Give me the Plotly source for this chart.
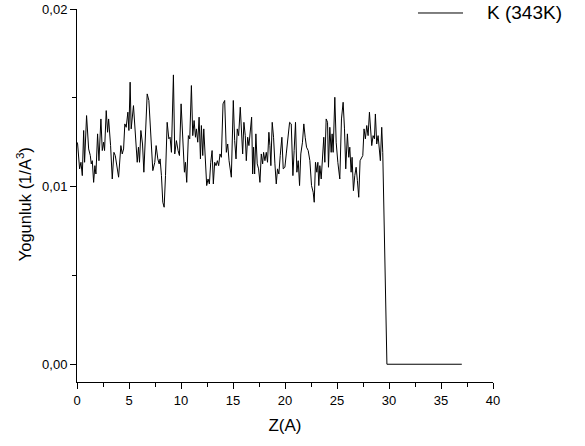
import plotly.graph_objects as go

# Density profile along Z for K at 343 K
z = [0.00, 0.06, 0.25, 0.38, 0.51, 0.64, 0.73, 0.92, 1.12, 1.28, 1.37, 1.47, 1.60, 1.72, 1.82,
     1.98, 2.11, 2.30, 2.43, 2.56, 2.65, 2.81, 2.94, 3.04, 3.23, 3.39, 3.55, 3.68, 4.00, 4.22,
     4.35, 4.48, 4.60, 4.73, 4.89, 4.99, 5.11, 5.21, 5.43, 5.66, 5.79, 5.91, 6.01, 6.14, 6.30,
     6.43, 6.59, 6.75, 6.91, 7.10, 7.29, 7.48, 7.61, 7.77, 7.90, 7.99, 8.12, 8.25, 8.38, 8.51,
     8.67, 8.83, 8.95, 9.08, 9.27, 9.40, 9.56, 9.72, 9.85, 10.01, 10.17, 10.33, 10.43, 10.55,
     10.71, 10.84, 11.00, 11.13, 11.26, 11.39, 11.48, 11.61, 11.74, 11.87, 11.96, 12.09, 12.19,
     12.31, 12.47, 12.60, 12.73, 12.86, 12.99, 13.11, 13.24, 13.37, 13.50, 13.62, 13.75, 13.88,
     14.04, 14.20, 14.36, 14.49, 14.62, 14.84, 15.03, 15.16, 15.29, 15.41, 15.54, 15.70, 15.83,
     15.93, 16.05, 16.18, 16.28, 16.41, 16.53, 16.66, 16.79, 16.89, 16.98, 17.08, 17.20, 17.33,
     17.46, 17.59, 17.72, 17.85, 17.94, 18.07, 18.20, 18.32, 18.45, 18.55, 18.64, 18.77, 18.90,
     19.03, 19.16, 19.28, 19.41, 19.54, 19.70, 19.83, 19.99, 20.12, 20.28, 20.44, 20.60, 20.76,
     20.88, 21.01, 21.14, 21.27, 21.40, 21.52, 21.68, 21.81, 21.94, 22.07, 22.23, 22.39, 22.55,
     22.71, 22.81, 22.93, 23.06, 23.16, 23.25, 23.35, 23.48, 23.61, 23.73, 23.83, 23.96, 24.09,
     24.18, 24.31, 24.44, 24.53, 24.63, 24.79, 24.92, 25.08, 25.27, 25.43, 25.59, 25.72, 25.84,
     26.00, 26.13, 26.23, 26.36, 26.45, 26.58, 26.71, 26.84, 26.96, 27.09, 27.22, 27.35, 27.48,
     27.60, 27.73, 27.86, 27.99, 28.12, 28.24, 28.34, 28.47, 28.60, 28.69, 28.82, 28.95, 29.08,
     29.17, 29.30, 29.40, 29.80, 33.00, 37.00]

density = [0.01250, 0.01240, 0.01100, 0.01137, 0.01062, 0.01316, 0.01137, 0.01400, 0.01212,
           0.01175, 0.01128, 0.01146, 0.01024, 0.01118, 0.01071, 0.01297, 0.01146, 0.01381,
           0.01203, 0.01250, 0.01203, 0.01428, 0.01306, 0.01381, 0.01231, 0.01043, 0.01193,
           0.01175, 0.01053, 0.01231, 0.01184, 0.01212, 0.01353, 0.01334, 0.01419, 0.01316,
           0.01588, 0.01325, 0.01456, 0.01231, 0.01137, 0.01222, 0.01137, 0.01316, 0.01240,
           0.01081, 0.01344, 0.01522, 0.01485, 0.01306, 0.01090, 0.01137, 0.01231, 0.01156,
           0.01128, 0.01156, 0.01062, 0.00912, 0.00884, 0.01062, 0.01362, 0.01269, 0.01278,
           0.01193, 0.01629, 0.01184, 0.01259, 0.01203, 0.01175, 0.01466, 0.01269, 0.01081,
           0.01137, 0.01024, 0.01287, 0.01269, 0.01569, 0.01287, 0.01372, 0.01278, 0.01325,
           0.01250, 0.01391, 0.01156, 0.01344, 0.01175, 0.01325, 0.01146, 0.01006, 0.01043,
           0.01015, 0.01137, 0.01203, 0.01015, 0.01137, 0.01118, 0.01146, 0.01118, 0.01184,
           0.01165, 0.01466, 0.01485, 0.01193, 0.01240, 0.01146, 0.01053, 0.01485, 0.01259,
           0.01156, 0.01325, 0.01287, 0.01447, 0.01287, 0.01184, 0.01362, 0.01287, 0.01146,
           0.01278, 0.01231, 0.01334, 0.01391, 0.01071, 0.01222, 0.01071, 0.01297, 0.01128,
           0.01100, 0.01024, 0.01184, 0.01128, 0.01193, 0.01146, 0.01193, 0.01137, 0.01306,
           0.01231, 0.01118, 0.01362, 0.01278, 0.01128, 0.01015, 0.01100, 0.01071, 0.01175,
           0.01278, 0.01100, 0.01109, 0.01184, 0.01269, 0.01362, 0.01353, 0.01062, 0.01203,
           0.01362, 0.01081, 0.01146, 0.01006, 0.01184, 0.01250, 0.01353, 0.01278, 0.01222,
           0.01203, 0.01146, 0.01006, 0.00968, 0.00912, 0.01137, 0.01081, 0.01137, 0.01006,
           0.01118, 0.01043, 0.01156, 0.01278, 0.01137, 0.01381, 0.01362, 0.01109, 0.01334,
           0.01193, 0.01297, 0.01193, 0.01503, 0.01250, 0.01137, 0.01043, 0.01381, 0.01475,
           0.01325, 0.01100, 0.01297, 0.01165, 0.01222, 0.01081, 0.01165, 0.00977, 0.01062,
           0.01109, 0.01034, 0.00940, 0.01146, 0.01165, 0.01175, 0.01325, 0.01269, 0.01344,
           0.01287, 0.01419, 0.01306, 0.01231, 0.01287, 0.01269, 0.01409, 0.01240, 0.01287,
           0.01212, 0.01146, 0.01334, 0.01193, 0.00000, 0.00000, 0.00000]

series_name = "K (343K)"
x_ticks = [0, 5, 10, 15, 20, 25, 30, 35, 40]
y_ticks = [0.00, 0.01, 0.02]

FONT = "Liberation Sans, Arial, sans-serif"

fig = go.Figure()
fig.add_trace(go.Scatter(
    x=z, y=density, mode="lines", name=series_name, showlegend=False,
    line=dict(color="black", width=1),
))

axis_common = dict(
    showline=True, linecolor="black", linewidth=1,
    ticks="outside", ticklen=6, tickwidth=1, tickcolor="black",
    showgrid=False, zeroline=False, mirror=False,
    tickfont=dict(family=FONT, size=13, color="black"),
)

fig.update_xaxes(
    range=[0, 40], tickvals=x_ticks,
    minor=dict(ticks="outside", ticklen=4, dtick=2.5, tick0=0, tickcolor="black"),
    title=dict(text="Z(A)", font=dict(family=FONT, size=17, color="black"), standoff=12),
    **axis_common,
)
fig.update_yaxes(
    range=[-0.001, 0.02], tickvals=y_ticks, tickformat=".2f",
    minor=dict(ticks="outside", ticklen=4, dtick=0.005, tick0=0, tickcolor="black"),
    **axis_common,
)

# y-axis title placed as a rotated annotation
fig.add_annotation(
    text="Yogunluk (1/A<sup>3</sup>)", textangle=-90,
    xref="paper", yref="paper", x=-0.127, y=0.477,
    xanchor="center", yanchor="middle", showarrow=False,
    font=dict(family=FONT, size=16.5, color="black"),
)

# legend key: short line sample and series label at the top right
fig.add_shape(
    type="line", xref="paper", yref="paper",
    x0=0.8197, x1=0.9279, y0=0.9893, y1=0.9893,
    line=dict(color="black", width=1),
)
fig.add_annotation(
    text=series_name, xref="paper", yref="paper", x=0.9808, y=0.9893,
    xanchor="left", yanchor="middle", showarrow=False,
    font=dict(family=FONT, size=19, color="black"),
)

fig.update_layout(
    width=585, height=446,
    margin=dict(l=77, r=92, t=9, b=64, autoexpand=False),
    paper_bgcolor="white", plot_bgcolor="white",
    separators=",.",
    showlegend=False,
)

fig.write_html("out.html")
